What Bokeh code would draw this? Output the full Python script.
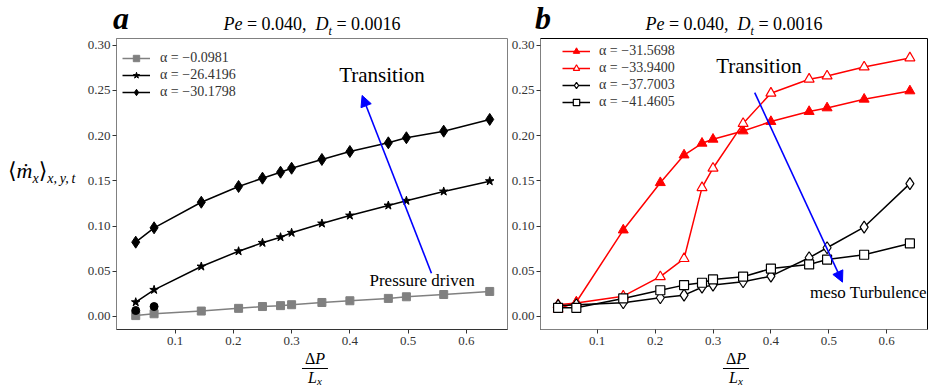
from bokeh.plotting import figure
from bokeh.layouts import row, column
from bokeh.models import (Range1d, FixedTicker, Legend, LegendItem, Label, Arrow,
                          NormalHead, PrintfTickFormatter, Div)
from bokeh.embed import file_html
from bokeh.resources import INLINE

# ---------------- data ----------------
dp = [0.0325, 0.064, 0.145, 0.209, 0.25, 0.281, 0.30, 0.352, 0.40, 0.466, 0.497, 0.561, 0.64]

# panel a
m_a_00981 = [0.001, 0.003, 0.006, 0.009, 0.011, 0.012, 0.013, 0.0155, 0.0174, 0.020, 0.0218, 0.0243, 0.0277]
m_a_264196 = [0.0158, 0.0295, 0.0553, 0.0722, 0.0815, 0.0877, 0.0926, 0.1029, 0.1117, 0.1228, 0.128, 0.1383, 0.1497]
m_a_301798 = [0.0822, 0.0981, 0.1264, 0.1438, 0.153, 0.1596, 0.164, 0.1737, 0.1825, 0.1921, 0.1977, 0.205, 0.218]
dp_dots = [0.0325, 0.064]
m_dots = [0.0066, 0.011]

# panel b
m_b_315698 = [0.008, 0.016, 0.0956, 0.148, 0.1786, 0.1916, 0.196, 0.2052, 0.2156, 0.2267, 0.2307, 0.2403, 0.2495]
m_b_339400 = [0.013, 0.015, 0.0225, 0.044, 0.064, 0.1425, 0.164, 0.2134, 0.247, 0.2625, 0.266, 0.276, 0.286]
m_b_377003 = [0.012, 0.013, 0.0152, 0.0207, 0.0236, 0.0324, 0.0347, 0.0384, 0.0446, 0.065, 0.076, 0.0989, 0.147]
m_b_414605 = [0.0096, 0.0096, 0.020, 0.029, 0.0347, 0.0373, 0.041, 0.044, 0.053, 0.0576, 0.063, 0.0683, 0.0808]

labels_a = ["\u03b1 = \u22120.0981", "\u03b1 = \u221226.4196", "\u03b1 = \u221230.1798"]
labels_b = ["\u03b1 = \u221231.5698", "\u03b1 = \u221233.9400", "\u03b1 = \u221237.7003", "\u03b1 = \u221241.4605"]
x_ticks = [0.1, 0.2, 0.3, 0.4, 0.5, 0.6]
y_ticks = [0.0, 0.05, 0.10, 0.15, 0.20, 0.25, 0.30]

SERIF = "Liberation Serif"
CSS_FONT = "'Liberation Serif', 'DejaVu Serif', serif"
GRAY = "#808080"
TOP_H = 36
FIG_H = 314
BOT_H = 39


def make_fig(width, border_left, xr, yr):
    p = figure(width=width, height=FIG_H, x_range=Range1d(*xr), y_range=Range1d(*yr),
               output_backend="svg", toolbar_location=None,
               min_border_left=border_left, min_border_right=1,
               min_border_top=2, min_border_bottom=21, margin=0)
    p.title.visible = False
    p.xgrid.visible = False
    p.ygrid.visible = False
    p.xaxis.ticker = FixedTicker(ticks=x_ticks)
    p.yaxis.ticker = FixedTicker(ticks=y_ticks)
    p.xaxis.formatter = PrintfTickFormatter(format="%.1f")
    p.yaxis.formatter = PrintfTickFormatter(format="%.2f")
    for ax in (p.xaxis[0], p.yaxis[0]):
        ax.minor_tick_line_color = None
        ax.major_tick_in = 0
        ax.major_tick_out = 4
        ax.major_label_text_font = SERIF
        ax.major_label_text_font_size = "13px"
        ax.major_label_text_color = "#333333"
        ax.major_tick_line_color = "#333333"
    p.xaxis.major_label_standoff = 3
    p.yaxis.major_label_standoff = 2
    return p


def txt(p, x, y, text, size):
    p.add_layout(Label(x=x, y=y, text=text, text_font=SERIF, text_font_size=size,
                       text_align="center", text_baseline="middle", text_color="black"))


def add_legend(p, items, loc, standoff):
    leg = Legend(items=items, location=loc, glyph_width=28, glyph_height=16, label_height=16,
                 label_width=20, spacing=1, padding=4, margin=0, label_standoff=standoff,
                 border_line_alpha=0, background_fill_alpha=0,
                 label_text_font=SERIF, label_text_font_size="14px", label_text_color="#333333")
    p.add_layout(leg)


# ---------------- panel a ----------------
pa = make_fig(424, 32, (-0.0005, 0.6705), (-0.0144, 0.3075))
pa.outline_line_color = GRAY
pa.yaxis.axis_line_color = GRAY
pa.xaxis.axis_line_color = "#333333"

la1 = pa.line(dp, m_a_00981, line_color=GRAY, line_width=1.5)
sa1 = pa.scatter(dp, m_a_00981, marker="square", size=8, fill_color=GRAY, line_color=GRAY)
la2 = pa.line(dp, m_a_264196, line_color="black", line_width=1.5)
sa2 = pa.scatter(dp, m_a_264196, marker="star", size=9, fill_color="black", line_color="black")
la3 = pa.line(dp, m_a_301798, line_color="black", line_width=1.5)
sa3 = pa.scatter(dp, m_a_301798, marker="diamond", size=12, fill_color="black", line_color="black")
pa.scatter(dp_dots, m_dots, marker="circle", size=8, fill_color="black", line_color="black")

add_legend(pa, [LegendItem(label=labels_a[0], renderers=[la1, sa1]),
                LegendItem(label=labels_a[1], renderers=[la2, sa2]),
                LegendItem(label=labels_a[2], renderers=[la3, sa3])], (2, 225), 10)

pa.add_layout(Arrow(end=NormalHead(size=11, fill_color="blue", line_color="blue"),
                    x_start=0.540, y_start=0.0479, x_end=0.421, y_end=0.2445,
                    line_color="blue", line_width=1.6))
txt(pa, 0.455, 0.2666, "Transition", "21px")
txt(pa, 0.524, 0.0398, "Pressure driven", "17px")

# ---------------- panel b ----------------
pb = make_fig(420, 30, (0.0021, 0.6704), (-0.0144, 0.3075))
pb.outline_line_color = "black"
pb.yaxis.axis_line_color = GRAY
pb.xaxis.axis_line_color = GRAY

lb1 = pb.line(dp, m_b_315698, line_color="red", line_width=1.5)
sb1 = pb.scatter(dp, m_b_315698, marker="triangle", size=10, fill_color="red", line_color="red")
lb2 = pb.line(dp, m_b_339400, line_color="red", line_width=1.5)
sb2 = pb.scatter(dp, m_b_339400, marker="triangle", size=10, fill_color="white", line_color="red", line_width=1.2)
lb3 = pb.line(dp, m_b_377003, line_color="black", line_width=1.5)
sb3 = pb.scatter(dp, m_b_377003, marker="diamond", size=12, fill_color="white", line_color="black", line_width=1.2)
lb4 = pb.line(dp, m_b_414605, line_color="black", line_width=1.5)
sb4 = pb.scatter(dp, m_b_414605, marker="square", size=9, fill_color="white", line_color="black", line_width=1.2)

add_legend(pb, [LegendItem(label=labels_b[0], renderers=[lb1, sb1]),
                LegendItem(label=labels_b[1], renderers=[lb2, sb2]),
                LegendItem(label=labels_b[2], renderers=[lb3, sb3]),
                LegendItem(label=labels_b[3], renderers=[lb4, sb4])], (18, 215), 9)

pb.add_layout(Arrow(end=NormalHead(size=11, fill_color="blue", line_color="blue"),
                    x_start=0.372, y_start=0.2477, x_end=0.5236, y_end=0.038,
                    line_color="blue", line_width=1.6))
txt(pb, 0.3794, 0.277, "Transition", "21px")
txt(pb, 0.5684, 0.0262, "meso Turbulence", "17px")

# ---------------- texts outside the plot frames (HTML) ----------------
SUB = "font-size:12px;line-height:0;font-style:italic;"
title_html = ("<i>Pe</i> = 0.040,&nbsp; <i>D</i><sub style='" + SUB + "'>t</sub> = 0.0016")


def title_span(center):
    return (f"<span style=\"position:absolute;left:{center}px;top:15px;font-size:18px;"
            f"white-space:nowrap;transform:translateX(-50%);\">{title_html}</span>")


def letter_span(left, top, letter):
    return (f"<span style=\"position:absolute;left:{left}px;top:{top}px;font-size:32px;"
            f"font-weight:bold;font-style:italic;\">{letter}</span>")


top_div = Div(width=928, height=TOP_H, margin=0, text=(
    f"<div style=\"position:relative;width:928px;height:{TOP_H}px;font-family:{CSS_FONT};"
    f"color:#000;line-height:1;\">"
    + letter_span(113, 2, "a") + title_span(312)
    + letter_span(535, 2, "b") + title_span(734)
    + "</div>"))

ylab_div = Div(width=84, height=FIG_H, margin=0, text=(
    f"<div style=\"position:relative;width:84px;height:{FIG_H}px;font-family:{CSS_FONT};"
    f"color:#000;line-height:1;\">"
    "<span style=\"position:absolute;left:8px;top:124px;font-size:22px;white-space:nowrap;\">"
    "\u27e8<i>\u1e41</i><sub style='font-size:14px;line-height:0;font-style:italic;'>x</sub>\u27e9"
    "<sub style='font-size:14px;line-height:0;font-style:italic;'>x,\u2009y,\u2009t</sub></span>"
    "</div>"))


def frac_span(center):
    return (f"<div style=\"position:absolute;left:{center}px;top:0px;transform:translateX(-50%);"
            f"text-align:center;font-size:16px;white-space:nowrap;\">"
            "<div style=\"line-height:18px;padding:0 3px;\">\u0394<i>P</i></div>"
            "<div style=\"line-height:18px;border-top:1px solid #000;padding:0 3px;\"><i>L</i>"
            "<span style=\"font-size:11px;font-style:italic;vertical-align:-2px;line-height:0;\">x</span>"
            "</div></div>")


bot_div = Div(width=928, height=BOT_H, margin=0, text=(
    f"<div style=\"position:relative;width:928px;height:{BOT_H}px;font-family:{CSS_FONT};color:#000;\">"
    + frac_span(315) + frac_span(736) + "</div>"))

layout = column(top_div, row(ylab_div, pa, pb, spacing=0, margin=0), bot_div, spacing=0, margin=0)
open("out.html", "w").write(file_html(layout, INLINE))
